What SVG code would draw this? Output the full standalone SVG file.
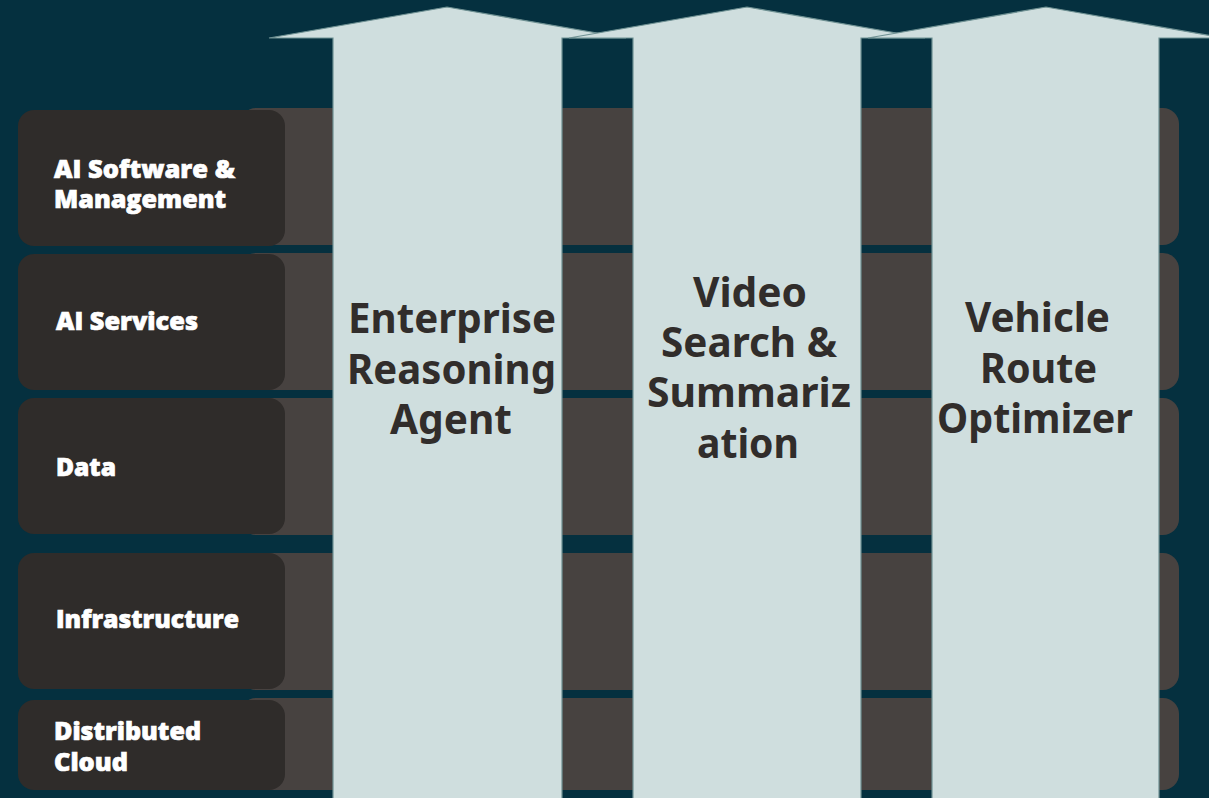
<svg xmlns="http://www.w3.org/2000/svg" width="1209" height="798" viewBox="0 0 1209 798">
<style>
.band{fill:#474240}
.box{fill:#2f2c2a}
.lbl{font-family:"Open Sans",Lato,sans-serif;font-weight:800;font-size:25px;fill:#ffffff;stroke:#ffffff;stroke-width:0.7}
.arrow{fill:#cfdede;stroke:#6f9193;stroke-width:1.2}
.atxt{font-family:"Noto Sans","Open Sans",sans-serif;font-weight:700;font-size:42px;fill:#312d2b}
</style>
<rect width="1209" height="798" fill="#05303f"/>
<g id="bands">
<rect class="band" x="240" y="108" width="939" height="137" rx="16"/>
<rect class="band" x="240" y="253" width="939" height="137" rx="16"/>
<rect class="band" x="240" y="398" width="939" height="137" rx="16"/>
<rect class="band" x="240" y="553" width="939" height="137" rx="16"/>
<rect class="band" x="240" y="698" width="939" height="92" rx="16"/>
</g>
<g id="row-ai-software">
<rect class="box" x="18" y="110" width="267" height="136" rx="16"/>
<text class="lbl" x="54" y="178" textLength="181" lengthAdjust="spacingAndGlyphs">AI Software &amp;</text>
<text class="lbl" x="54" y="208" textLength="172" lengthAdjust="spacingAndGlyphs">Management</text>
</g>
<g id="row-ai-services">
<rect class="box" x="18" y="254" width="267" height="136" rx="16"/>
<text class="lbl" x="56" y="330" textLength="142" lengthAdjust="spacingAndGlyphs">AI Services</text>
</g>
<g id="row-data">
<rect class="box" x="18" y="398" width="267" height="136" rx="16"/>
<text class="lbl" x="56" y="476" textLength="60" lengthAdjust="spacingAndGlyphs">Data</text>
</g>
<g id="row-infrastructure">
<rect class="box" x="18" y="553" width="267" height="136" rx="16"/>
<text class="lbl" x="56" y="628" textLength="183" lengthAdjust="spacingAndGlyphs">Infrastructure</text>
</g>
<g id="row-distributed-cloud">
<rect class="box" x="18" y="700" width="267" height="90" rx="16"/>
<text class="lbl" x="54" y="740" textLength="147" lengthAdjust="spacingAndGlyphs">Distributed</text>
<text class="lbl" x="54" y="771" textLength="74" lengthAdjust="spacingAndGlyphs">Cloud</text>
</g>
<g id="arrow-enterprise">
<polygon class="arrow" points="333,805 333,38 269,38 447,7 626,38 562,38 562,805"/>
<text class="atxt" x="348" y="333" textLength="208" lengthAdjust="spacingAndGlyphs">Enterprise</text>
<text class="atxt" x="347" y="384" textLength="209" lengthAdjust="spacingAndGlyphs">Reasoning</text>
<text class="atxt" x="390" y="434" textLength="122" lengthAdjust="spacingAndGlyphs">Agent</text>
</g>
<g id="arrow-video">
<polygon class="arrow" points="633,805 633,38 569,38 747,7 925,38 861,38 861,805"/>
<text class="atxt" x="693" y="307" textLength="114" lengthAdjust="spacingAndGlyphs">Video</text>
<text class="atxt" x="661" y="357" textLength="176" lengthAdjust="spacingAndGlyphs">Search &amp;</text>
<text class="atxt" x="647" y="407" textLength="204" lengthAdjust="spacingAndGlyphs">Summariz</text>
<text class="atxt" x="697" y="458" textLength="102" lengthAdjust="spacingAndGlyphs">ation</text>
</g>
<g id="arrow-vehicle">
<polygon class="arrow" points="932,805 932,38 868,38 1046,7 1224,38 1159,38 1159,805"/>
<text class="atxt" x="965" y="332" textLength="145" lengthAdjust="spacingAndGlyphs">Vehicle</text>
<text class="atxt" x="980" y="383" textLength="117" lengthAdjust="spacingAndGlyphs">Route</text>
<text class="atxt" x="937" y="433" textLength="196" lengthAdjust="spacingAndGlyphs">Optimizer</text>
</g>
<g id="connectors"/>
</svg>
